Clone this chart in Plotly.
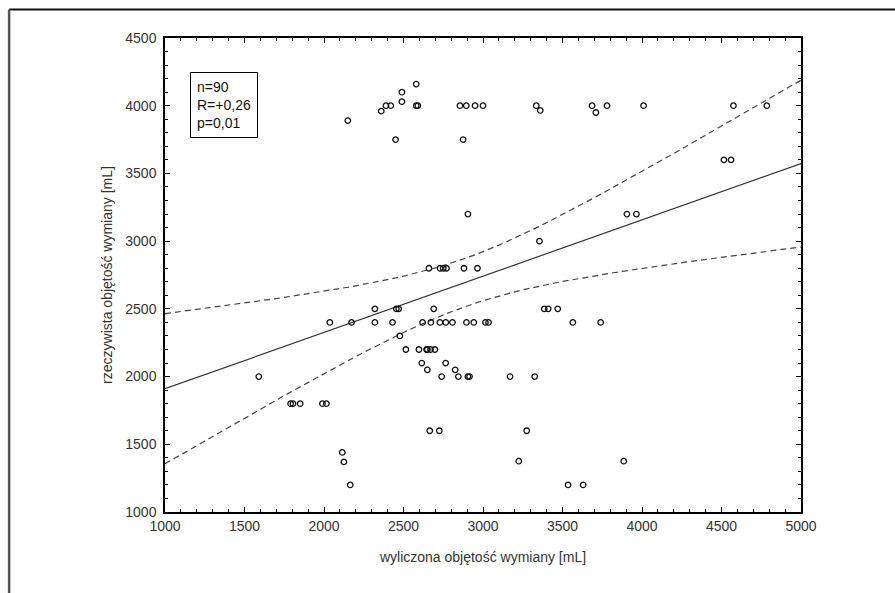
import numpy as np
import plotly.graph_objects as go

x_calc = [2150, 2360, 2390, 2420, 2490, 2490, 2580, 2580, 2590, 2450,
          2855, 2895, 2950, 3000, 2875, 2905, 3335, 3360, 3686, 3710,
          3780, 4010, 4575, 4785, 4515, 4560, 3905, 3965, 3355,
          2660, 2730, 2750, 2770, 2880, 2965,
          2320, 2455, 2470, 2690,
          2037, 2173, 2320, 2431, 2620, 2672, 2729, 2766, 2808, 2896, 2942, 3015, 3035,
          2477,
          2515, 2597, 2645, 2650, 2670, 2697,
          2615, 2650, 2765, 2825,
          1590, 2740, 2845, 2905, 2915,
          1790, 1805, 1850, 1990, 2015,
          2665, 2725,
          2115, 2125, 2165,
          3385, 3410, 3470,
          3565, 3740,
          3170, 3325,
          3275,
          3225, 3885,
          3535, 3630]
y_real = [3890, 3960, 4000, 4000, 4100, 4030, 4160, 4000, 4000, 3750,
          4000, 4000, 4000, 4000, 3750, 3200, 4000, 3965, 4000, 3950,
          4000, 4000, 4000, 4000, 3600, 3600, 3200, 3200, 3000,
          2800, 2800, 2800, 2800, 2800, 2800,
          2500, 2500, 2500, 2500,
          2400, 2400, 2400, 2400, 2400, 2400, 2400, 2400, 2400, 2400, 2400, 2400, 2400,
          2300,
          2200, 2200, 2200, 2200, 2200, 2200,
          2100, 2050, 2100, 2050,
          2000, 2000, 2000, 2000, 2000,
          1800, 1800, 1800, 1800, 1800,
          1600, 1600,
          1440, 1370, 1200,
          2500, 2500, 2500,
          2400, 2400,
          2000, 2000,
          1600,
          1375, 1375,
          1200, 1200]

x_ticks = [1000, 1500, 2000, 2500, 3000, 3500, 4000, 4500, 5000]
y_ticks = [1000, 1500, 2000, 2500, 3000, 3500, 4000, 4500]
stats_lines = ["n=90", "R=+0,26", "p=0,01"]
x_title = "wyliczona objętość wymiany [mL]"
y_title = "rzeczywista objętość wymiany [mL]"

# Linear regression with 95% confidence band
xa = np.array(x_calc, float)
ya = np.array(y_real, float)
n = len(xa)
slope, intercept = np.polyfit(xa, ya, 1)
xg = np.linspace(1000, 5000, 81)
yg = intercept + slope * xg
resid = ya - (intercept + slope * xa)
s = np.sqrt(np.sum(resid ** 2) / (n - 2))
sxx = np.sum((xa - xa.mean()) ** 2)
tval = 1.987
se = s * np.sqrt(1.0 / n + (xg - xa.mean()) ** 2 / sxx)
upper = yg + tval * se
lower = yg - tval * se

fig = go.Figure()
fig.add_trace(go.Scatter(x=xg, y=upper, mode="lines",
                         line=dict(color="#444", width=1.2, dash="6px,4px"),
                         hoverinfo="skip"))
fig.add_trace(go.Scatter(x=xg, y=lower, mode="lines",
                         line=dict(color="#444", width=1.2, dash="6px,4px"),
                         hoverinfo="skip"))
fig.add_trace(go.Scatter(x=xg, y=yg, mode="lines",
                         line=dict(color="#333", width=1.2)))
fig.add_trace(go.Scatter(x=x_calc, y=y_real, mode="markers",
                         marker=dict(symbol="circle-open", size=5.5,
                                     color="#111", line=dict(width=1.3))))

W, H = 895, 593
ml, mt = 165, 37.5
mr = W - 801.5
mb = H - 512
pw, ph = W - ml - mr, H - mt - mb

def px(xp):
    return (xp - ml) / pw

def py(yp):
    return 1 - (yp - mt) / ph

font = dict(family="Liberation Sans, Arial, sans-serif", size=14, color="#333")

axis_common = dict(
    showgrid=False, zeroline=False, showline=True, linecolor="black",
    linewidth=1.5, mirror="ticks", ticks="inside", ticklen=5,
    tickcolor="black", tickwidth=1.2,
    minor=dict(ticks="inside", ticklen=3, dtick=100, tickcolor="black",
               tickwidth=1, showgrid=False),
    tickfont=font,
)

fig.update_layout(
    width=W, height=H,
    margin=dict(l=ml, r=mr, t=mt, b=mb),
    paper_bgcolor="white", plot_bgcolor="white",
    showlegend=False,
    font=font,
    xaxis=dict(range=[1000, 5000], tickvals=x_ticks,
               ticktext=[str(v) for v in x_ticks],
               title=dict(text=x_title, font=dict(size=14, color="#333"), standoff=20),
               **axis_common),
    yaxis=dict(range=[1000, 4500], tickvals=y_ticks,
               ticktext=[str(v) for v in y_ticks], ticklabelstandoff=4,
               title=dict(text=y_title, font=dict(size=14, color="#333"), standoff=9),
               **axis_common),
    annotations=[dict(
        xref="paper", yref="paper", x=px(190), y=py(72),
        xanchor="left", yanchor="top", align="left",
        text="<br>".join(stats_lines), showarrow=False,
        font=dict(family="Liberation Sans, Arial, sans-serif", size=14, color="#111"),
        bordercolor="black", borderwidth=1, borderpad=6, bgcolor="white",
    )],
    shapes=[
        dict(type="line", xref="paper", yref="paper",
             x0=px(9), y0=py(9), x1=px(900), y1=py(9),
             line=dict(color="#111", width=2)),
        dict(type="line", xref="paper", yref="paper",
             x0=px(9), y0=py(9), x1=px(9), y1=py(600),
             line=dict(color="#555", width=2.5)),
    ],
)

fig.write_html(
    "out.html",
    config={"displayModeBar": False},
    post_script="document.body.style.margin='0';"
                "document.body.style.overflow='hidden';",
)
